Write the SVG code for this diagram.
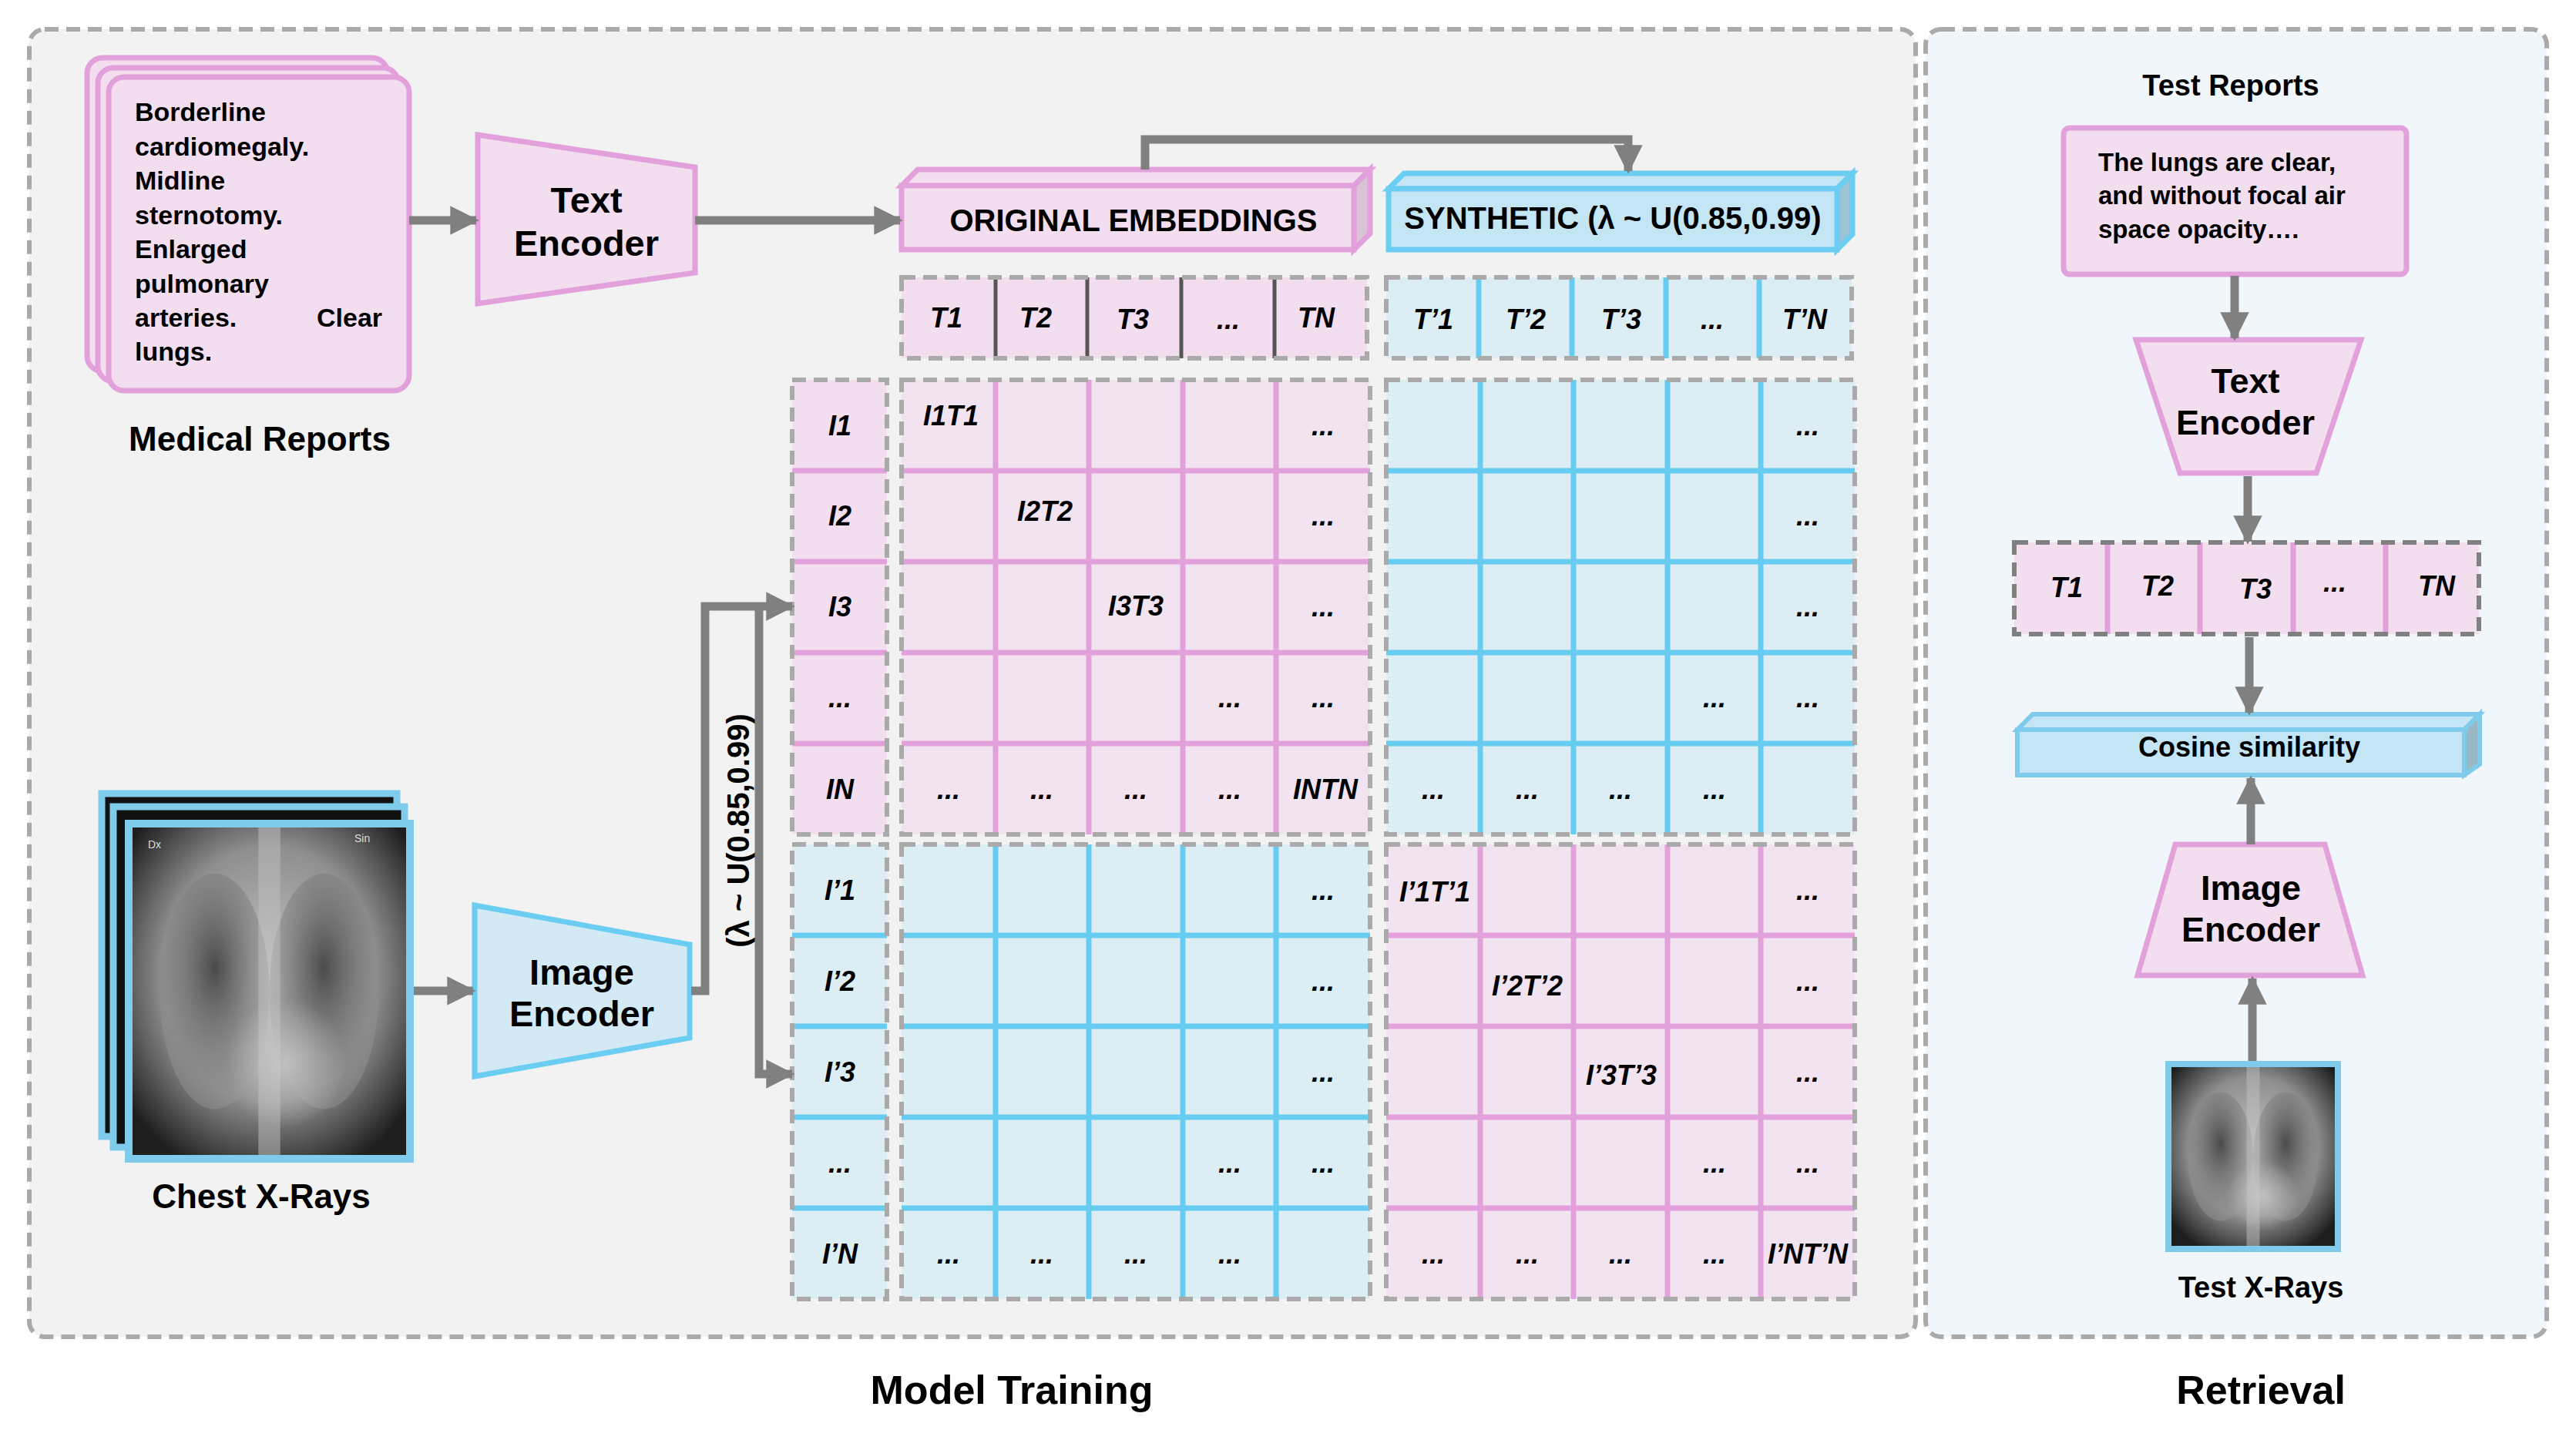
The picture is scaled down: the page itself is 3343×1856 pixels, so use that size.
<svg xmlns="http://www.w3.org/2000/svg" width="3343" height="1856" viewBox="0 0 3343 1856">
<defs>
<style>
text{font-family:"Liberation Sans",Arial,sans-serif;font-weight:bold;fill:#000}
.b{font-size:36px}
.i{font-size:36px;font-style:italic;text-anchor:middle}
.m{text-anchor:middle}
.pk{fill:#f2deef;stroke:#e3a1dc;stroke-width:7}
.bl{fill:#d3eaf5;stroke:#6ccdf2;stroke-width:7}
.dash{fill:none;stroke:#aaaaaa;stroke-width:6;stroke-dasharray:18 10}
.gp{stroke:#e3a1dc;stroke-width:7}
.gb{stroke:#66ccf2;stroke-width:7}
.conn{fill:none;stroke:#808080;stroke-width:11}
</style>
<marker id="ah" viewBox="0 0 10 10" refX="9" refY="5" markerWidth="3.4" markerHeight="3.4" orient="auto" markerUnits="strokeWidth"><path d="M0,0L10,5L0,10z" fill="#808080"/></marker>
<radialGradient id="xr" cx="0.5" cy="0.45" r="0.65"><stop offset="0" stop-color="#c4c4c4"/><stop offset="0.6" stop-color="#8f8f8f"/><stop offset="1" stop-color="#1e1e1e"/></radialGradient>
<radialGradient id="lung" cx="0.5" cy="0.4" r="0.6"><stop offset="0" stop-color="#4a4a4a"/><stop offset="1" stop-color="#9a9a9a" stop-opacity="0.4"/></radialGradient>
<radialGradient id="heart" cx="0.5" cy="0.5" r="0.5"><stop offset="0" stop-color="#d0d0d0" stop-opacity="0.7"/><stop offset="1" stop-color="#d0d0d0" stop-opacity="0"/></radialGradient>
<g id="xray">
<rect x="0" y="0" width="1" height="1" fill="url(#xr)"/>
<ellipse cx="0.3" cy="0.5" rx="0.2" ry="0.36" fill="url(#lung)"/>
<ellipse cx="0.7" cy="0.5" rx="0.2" ry="0.36" fill="url(#lung)"/>
<rect x="0.46" y="0" width="0.08" height="1" fill="#c0c0c0" opacity="0.5"/>
<ellipse cx="0.56" cy="0.72" rx="0.22" ry="0.2" fill="url(#heart)"/>
</g>
</defs>
<rect width="3343" height="1856" fill="#ffffff"/>
<g id="panels">
<rect x="38" y="38" width="2448" height="1697" rx="20" fill="#f2f2f2" stroke="#aaaaaa" stroke-width="6" stroke-dasharray="18 10"/>
<rect x="2499" y="38" width="806" height="1697" rx="20" fill="#f1f6fa" stroke="#aaaaaa" stroke-width="6" stroke-dasharray="18 10"/>
<text x="1313" y="1822" class="m" font-size="52">Model Training</text>
<text x="2934" y="1822" class="m" font-size="52">Retrieval</text>
</g>
<g id="medical-reports">
<rect x="113" y="75" width="390" height="407" rx="20" class="pk"/>
<rect x="127" y="88" width="390" height="407" rx="20" class="pk"/>
<rect x="141" y="100" width="390" height="407" rx="20" class="pk"/>
<g font-size="34">
<text x="175" y="157">Borderline</text>
<text x="175" y="202">cardiomegaly.</text>
<text x="175" y="246">Midline</text>
<text x="175" y="291">sternotomy.</text>
<text x="175" y="335">Enlarged</text>
<text x="175" y="380">pulmonary</text>
<text x="175" y="424">arteries.</text>
<text x="411" y="424">Clear</text>
<text x="175" y="468">lungs.</text>
</g>
<text x="337" y="585" class="m" font-size="44">Medical Reports</text>
</g>
<g id="text-encoder">
<polygon points="620,175 902,217 902,354 620,394" class="pk"/>
<text x="761" y="276" class="m" font-size="47">Text</text>
<text x="761" y="332" class="m" font-size="47">Encoder</text>
</g>
<g id="original-embeddings">
<polygon points="1170,241 1191,220 1778,220 1757,241" fill="#f2deef" stroke="#e3a1dc" stroke-width="7"/>
<polygon points="1757,241 1778,220 1778,303 1757,324" fill="#d9c4d6" stroke="#e3a1dc" stroke-width="7"/>
<rect x="1170" y="241" width="587" height="83" class="pk"/>
<text x="1471" y="300" class="m" font-size="40">ORIGINAL EMBEDDINGS</text>
</g>
<g id="synthetic">
<polygon points="1802,245 1822,225 2404,225 2384,245" fill="#c3e5f4" stroke="#6ccdf2" stroke-width="7"/>
<polygon points="2384,245 2404,225 2404,304 2384,324" fill="#9cc4d6" stroke="#6ccdf2" stroke-width="7"/>
<rect x="1802" y="245" width="582" height="79" fill="#c3e5f4" stroke="#6ccdf2" stroke-width="7"/>
<text x="2093" y="297" class="m" font-size="40">SYNTHETIC (λ ~ U(0.85,0.99)</text>
</g>
<g id="t-header">
<rect x="1170" y="360" width="604" height="105" fill="#f2deef"/>
<g stroke="#555" stroke-width="5"><line x1="1292" y1="360" x2="1292" y2="465"/><line x1="1411" y1="360" x2="1411" y2="465"/><line x1="1533" y1="360" x2="1533" y2="465"/><line x1="1654" y1="360" x2="1654" y2="465"/></g>
<rect x="1170" y="360" width="604" height="105" class="dash"/>
<text class="i" x="1228" y="425">T1</text><text class="i" x="1344" y="425">T2</text><text class="i" x="1470" y="427">T3</text><text class="i" x="1594" y="427">...</text><text class="i" x="1708" y="425">TN</text>
</g>
<g id="t-prime-header">
<rect x="1799" y="360" width="604" height="105" fill="#dcedf4"/>
<g class="gb"><line x1="1919" y1="360" x2="1919" y2="465"/><line x1="2040" y1="360" x2="2040" y2="465"/><line x1="2162" y1="360" x2="2162" y2="465"/><line x1="2283" y1="360" x2="2283" y2="465"/></g>
<rect x="1799" y="360" width="604" height="105" class="dash"/>
<text class="i" x="1860" y="427">T’1</text><text class="i" x="1980" y="427">T’2</text><text class="i" x="2104" y="427">T’3</text><text class="i" x="2222" y="427">...</text><text class="i" x="2342" y="427">T’N</text>
</g>
<g id="row-labels-top">
<rect x="1028" y="493" width="123" height="590" fill="#f2deef"/>
<g class="gp"><line x1="1028" y1="611" x2="1151" y2="611"/><line x1="1028" y1="729" x2="1151" y2="729"/><line x1="1028" y1="847" x2="1151" y2="847"/><line x1="1028" y1="965" x2="1151" y2="965"/></g>
<rect x="1028" y="493" width="123" height="590" class="dash"/>
<text class="i" x="1090" y="565">I1</text><text class="i" x="1090" y="682">I2</text><text class="i" x="1090" y="800">I3</text><text class="i" x="1090" y="918">...</text><text class="i" x="1090" y="1037">IN</text>
</g>
<g id="row-labels-bottom">
<rect x="1028" y="1096" width="123" height="590" fill="#dcedf4"/>
<g class="gb"><line x1="1028" y1="1214" x2="1151" y2="1214"/><line x1="1028" y1="1332" x2="1151" y2="1332"/><line x1="1028" y1="1450" x2="1151" y2="1450"/><line x1="1028" y1="1568" x2="1151" y2="1568"/></g>
<rect x="1028" y="1096" width="123" height="590" class="dash"/>
<text class="i" x="1090" y="1168">I’1</text><text class="i" x="1090" y="1286">I’2</text><text class="i" x="1090" y="1404">I’3</text><text class="i" x="1090" y="1522">...</text><text class="i" x="1090" y="1640">I’N</text>
</g>
<g id="matrix-top-left">
<rect x="1170" y="493" width="608" height="590" fill="#f2e3f0"/>
<g class="gp"><line x1="1292" y1="493" x2="1292" y2="1083"/><line x1="1413" y1="493" x2="1413" y2="1083"/><line x1="1535" y1="493" x2="1535" y2="1083"/><line x1="1656" y1="493" x2="1656" y2="1083"/>
<line x1="1170" y1="611" x2="1778" y2="611"/><line x1="1170" y1="729" x2="1778" y2="729"/><line x1="1170" y1="847" x2="1778" y2="847"/><line x1="1170" y1="965" x2="1778" y2="965"/></g>
<rect x="1170" y="493" width="608" height="590" class="dash"/>
<text class="i" x="1234" y="552">I1T1</text><text class="i" x="1356" y="676">I2T2</text><text class="i" x="1474" y="799">I3T3</text>
<text class="i" x="1717" y="565">...</text><text class="i" x="1717" y="682">...</text><text class="i" x="1717" y="800">...</text><text class="i" x="1717" y="918">...</text><text class="i" x="1596" y="918">...</text>
<text class="i" x="1231" y="1037">...</text><text class="i" x="1352" y="1037">...</text><text class="i" x="1474" y="1037">...</text><text class="i" x="1596" y="1037">...</text><text class="i" x="1720" y="1037">INTN</text>
</g>
<g id="matrix-top-right">
<rect x="1799" y="493" width="608" height="590" fill="#dcedf4"/>
<g class="gb"><line x1="1921" y1="493" x2="1921" y2="1083"/><line x1="2042" y1="493" x2="2042" y2="1083"/><line x1="2164" y1="493" x2="2164" y2="1083"/><line x1="2285" y1="493" x2="2285" y2="1083"/>
<line x1="1799" y1="611" x2="2407" y2="611"/><line x1="1799" y1="729" x2="2407" y2="729"/><line x1="1799" y1="847" x2="2407" y2="847"/><line x1="1799" y1="965" x2="2407" y2="965"/></g>
<rect x="1799" y="493" width="608" height="590" class="dash"/>
<text class="i" x="2346" y="565">...</text><text class="i" x="2346" y="682">...</text><text class="i" x="2346" y="800">...</text><text class="i" x="2346" y="918">...</text><text class="i" x="2225" y="918">...</text>
<text class="i" x="1860" y="1037">...</text><text class="i" x="1982" y="1037">...</text><text class="i" x="2103" y="1037">...</text><text class="i" x="2225" y="1037">...</text>
</g>
<g id="matrix-bottom-left">
<rect x="1170" y="1096" width="608" height="590" fill="#dcedf4"/>
<g class="gb"><line x1="1292" y1="1096" x2="1292" y2="1686"/><line x1="1413" y1="1096" x2="1413" y2="1686"/><line x1="1535" y1="1096" x2="1535" y2="1686"/><line x1="1656" y1="1096" x2="1656" y2="1686"/>
<line x1="1170" y1="1214" x2="1778" y2="1214"/><line x1="1170" y1="1332" x2="1778" y2="1332"/><line x1="1170" y1="1450" x2="1778" y2="1450"/><line x1="1170" y1="1568" x2="1778" y2="1568"/></g>
<rect x="1170" y="1096" width="608" height="590" class="dash"/>
<text class="i" x="1717" y="1168">...</text><text class="i" x="1717" y="1286">...</text><text class="i" x="1717" y="1404">...</text><text class="i" x="1717" y="1522">...</text><text class="i" x="1596" y="1522">...</text>
<text class="i" x="1231" y="1640">...</text><text class="i" x="1352" y="1640">...</text><text class="i" x="1474" y="1640">...</text><text class="i" x="1596" y="1640">...</text>
</g>
<g id="matrix-bottom-right">
<rect x="1799" y="1096" width="608" height="590" fill="#f2e3f0"/>
<g class="gp"><line x1="1921" y1="1096" x2="1921" y2="1686"/><line x1="2042" y1="1096" x2="2042" y2="1686"/><line x1="2164" y1="1096" x2="2164" y2="1686"/><line x1="2285" y1="1096" x2="2285" y2="1686"/>
<line x1="1799" y1="1214" x2="2407" y2="1214"/><line x1="1799" y1="1332" x2="2407" y2="1332"/><line x1="1799" y1="1450" x2="2407" y2="1450"/><line x1="1799" y1="1568" x2="2407" y2="1568"/></g>
<rect x="1799" y="1096" width="608" height="590" class="dash"/>
<text class="i" x="1862" y="1170">I’1T’1</text><text class="i" x="1982" y="1292">I’2T’2</text><text class="i" x="2104" y="1408">I’3T’3</text>
<text class="i" x="2346" y="1168">...</text><text class="i" x="2346" y="1286">...</text><text class="i" x="2346" y="1404">...</text><text class="i" x="2346" y="1522">...</text><text class="i" x="2225" y="1522">...</text>
<text class="i" x="1860" y="1640">...</text><text class="i" x="1982" y="1640">...</text><text class="i" x="2103" y="1640">...</text><text class="i" x="2225" y="1640">...</text><text class="i" x="2346" y="1640">I’NT’N</text>
</g>
<g id="chest-xrays">
<rect x="132" y="1030" width="383" height="445" fill="#111" stroke="#7ecbec" stroke-width="9"/>
<rect x="147" y="1047" width="378" height="442" fill="#111" stroke="#7ecbec" stroke-width="9"/>
<rect x="162" y="1064" width="375" height="445" fill="#7ecbec"/>
<svg x="172" y="1074" width="355" height="425" viewBox="0 0 1 1" preserveAspectRatio="none"><use href="#xray"/></svg>
<text x="192" y="1101" font-size="14" style="fill:#ddd;font-weight:normal">Dx</text>
<text x="460" y="1093" font-size="14" style="fill:#ddd;font-weight:normal">Sin</text>
<text x="339" y="1568" class="m" font-size="44">Chest X-Rays</text>
</g>
<g id="image-encoder">
<polygon points="616,1175 895,1226 895,1347 616,1397" class="bl"/>
<text x="755" y="1278" class="m" font-size="47">Image</text>
<text x="755" y="1332" class="m" font-size="47">Encoder</text>
</g>
<g id="lambda-label">
<text transform="translate(972,1078) rotate(-90)" class="m" font-size="40">(λ ~ U(0.85,0.99)</text>
</g>
<g id="test-reports">
<text x="2895" y="124" class="m" font-size="38">Test Reports</text>
<rect x="2678" y="166" width="445" height="190" rx="8" class="pk"/>
<g font-size="33"><text x="2723" y="222">The lungs are clear,</text><text x="2723" y="265">and without focal air</text><text x="2723" y="309">space opacity….</text></g>
</g>
<g id="test-text-encoder">
<polygon points="2772,441 3064,441 3006,614 2829,614" class="pk"/>
<text x="2914" y="510" class="m" font-size="45">Text</text>
<text x="2914" y="564" class="m" font-size="45">Encoder</text>
</g>
<g id="test-t-row">
<rect x="2614" y="704" width="603" height="119" fill="#f2deef"/>
<g class="gp"><line x1="2735" y1="704" x2="2735" y2="823"/><line x1="2855" y1="704" x2="2855" y2="823"/><line x1="2976" y1="704" x2="2976" y2="823"/><line x1="3096" y1="704" x2="3096" y2="823"/></g>
<rect x="2614" y="704" width="603" height="119" fill="none" stroke="#808080" stroke-width="6" stroke-dasharray="18 10"/>
<text class="i" x="2682" y="775">T1</text><text class="i" x="2800" y="773">T2</text><text class="i" x="2927" y="777">T3</text><text class="i" x="3030" y="768">...</text><text class="i" x="3162" y="773">TN</text>
</g>
<g id="cosine-similarity">
<polygon points="2618,947 2638,927 3218,927 3198,947" fill="#c3e5f4" stroke="#7ecbec" stroke-width="6"/>
<polygon points="3198,947 3218,927 3218,992 3198,1006" fill="#9ab8c4" stroke="#7ecbec" stroke-width="6"/>
<rect x="2618" y="947" width="580" height="59" fill="#c3e5f4" stroke="#7ecbec" stroke-width="6"/>
<text x="2919" y="982" class="m" font-size="36">Cosine similarity</text>
</g>
<g id="test-image-encoder">
<polygon points="2823,1096 3017,1096 3066,1266 2774,1266" class="pk"/>
<text x="2921" y="1168" class="m" font-size="45">Image</text>
<text x="2921" y="1222" class="m" font-size="45">Encoder</text>
</g>
<g id="test-xray">
<rect x="2810" y="1377" width="228" height="248" fill="#7ecbec"/>
<svg x="2818" y="1385" width="212" height="232" viewBox="0 0 1 1" preserveAspectRatio="none"><use href="#xray"/></svg>
<text x="2934" y="1684" class="m" font-size="38">Test X-Rays</text>
</g>
<g id="connectors">
<line x1="531" y1="286" x2="618" y2="286" class="conn" marker-end="url(#ah)"/>
<line x1="902" y1="286" x2="1168" y2="286" class="conn" marker-end="url(#ah)"/>
<polyline points="1486,220 1486,181 2113,181 2113,222" class="conn" marker-end="url(#ah)"/>
<line x1="537" y1="1286" x2="614" y2="1286" class="conn" marker-end="url(#ah)"/>
<polyline points="897,1286 915,1286 915,787 1028,787" class="conn" marker-end="url(#ah)"/>
<polyline points="985,787 985,1394 1028,1394" class="conn" marker-end="url(#ah)"/>
<line x1="2900" y1="358" x2="2900" y2="439" class="conn" marker-end="url(#ah)"/>
<line x1="2917" y1="618" x2="2917" y2="703" class="conn" marker-end="url(#ah)"/>
<line x1="2919" y1="827" x2="2919" y2="925" class="conn" marker-end="url(#ah)"/>
<line x1="2921" y1="1096" x2="2921" y2="1010" class="conn" marker-end="url(#ah)"/>
<line x1="2923" y1="1377" x2="2923" y2="1270" class="conn" marker-end="url(#ah)"/>
</g>
</svg>
